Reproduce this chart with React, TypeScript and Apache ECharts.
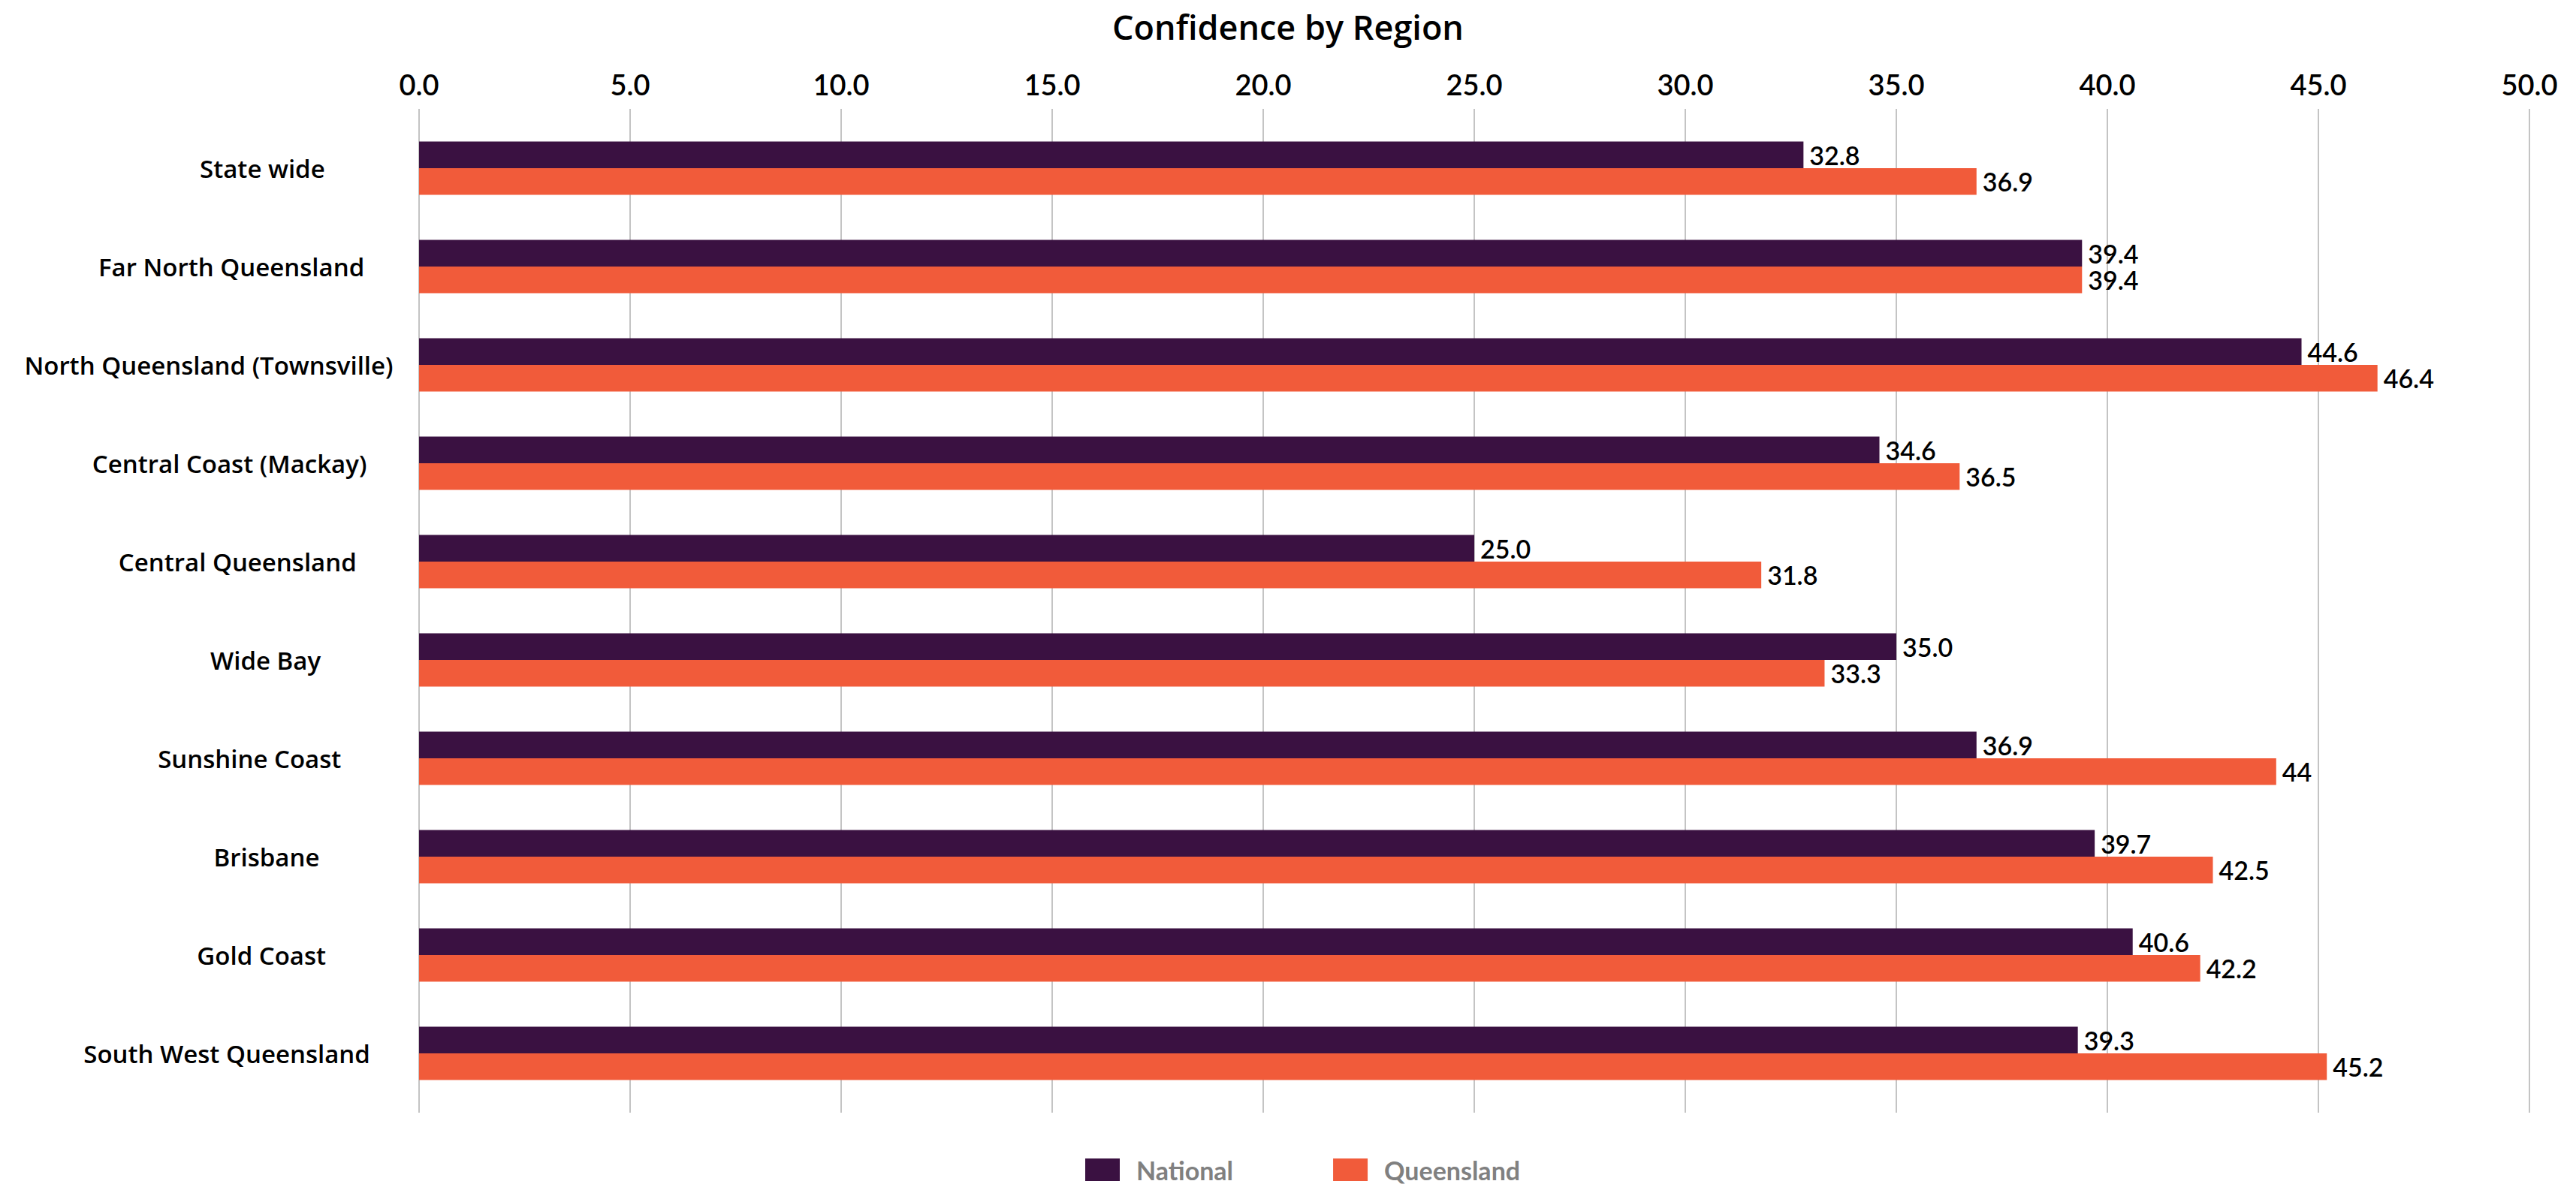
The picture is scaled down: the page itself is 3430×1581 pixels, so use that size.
import React, { useEffect, useRef } from "react";
import * as echarts from "echarts";

// Regions, top to bottom
const regions = [
  "State wide",
  "Far North Queensland",
  "North Queensland (Townsville)",
  "Central Coast (Mackay)",
  "Central Queensland",
  "Wide Bay",
  "Sunshine Coast",
  "Brisbane",
  "Gold Coast",
  "South West Queensland",
];

const national = [32.8, 39.4, 44.6, 34.6, 25.0, 35.0, 36.9, 39.7, 40.6, 39.3];
const queensland = [36.9, 39.4, 46.4, 36.5, 31.8, 33.3, 44, 42.5, 42.2, 45.2];

const seriesNames = ["National", "Queensland"];
const axisMin = 0;
const axisMax = 50;
const axisStep = 5;

const W = 3430;
const H = 1581;
const PLOT_LEFT = 558;
const PLOT_RIGHT = 62;

const COLOR_NATIONAL = "#3a1141";
const COLOR_QLD = "#f15b3a";
const GRID_COLOR = "#c4c4c4";

const CAT_FONT_FAMILY = '"Open Sans", "Noto Sans", sans-serif';
const CAT_FONT_SIZE = 33;
const CAT_FONT_WEIGHT = 600;
const NUM_FONT = 'Lato, "Open Sans", sans-serif';

// Category labels sit on an anchor ~72% along their width
const LABEL_ANCHOR_X = 386;
const LABEL_ANCHOR_FRAC = 0.72;

function measure(text: string): number {
  const c = document.createElement("canvas");
  const ctx = c.getContext("2d");
  if (!ctx) return text.length * CAT_FONT_SIZE * 0.55;
  ctx.font = `${CAT_FONT_WEIGHT} ${CAT_FONT_SIZE}px ${CAT_FONT_FAMILY}`;
  return ctx.measureText(text).width;
}

export default function App() {
  const ref = useRef<HTMLDivElement>(null);

  useEffect(() => {
    document.body.style.margin = "0";
    if (!ref.current) return;
    const chart = echarts.init(ref.current, undefined, { renderer: "svg" });

    const rich: Record<string, any> = {};
    regions.forEach((r, i) => {
      const w = measure(r);
      const right = LABEL_ANCHOR_X + (1 - LABEL_ANCHOR_FRAC) * w;
      const pad = Math.max(0, PLOT_LEFT - right);
      rich["c" + i] = {
        fontFamily: CAT_FONT_FAMILY,
        fontSize: CAT_FONT_SIZE,
        fontWeight: CAT_FONT_WEIGHT,
        color: "#000",
        padding: [0, pad, 0, 0],
      };
    });

    const valueLabel = {
      show: true,
      position: "right",
      distance: 8,
      fontFamily: NUM_FONT,
      fontSize: 34,
      fontWeight: 600,
      color: "#000",
    };

    const option: any = {
      animation: false,
      backgroundColor: "#fff",
      title: {
        text: "Confidence by Region",
        left: "center",
        top: 8,
        textStyle: {
          fontFamily: CAT_FONT_FAMILY,
          fontSize: 45,
          fontWeight: 600,
          color: "#000",
        },
      },
      legend: {
        data: seriesNames,
        left: 1440,
        top: 1536,
        itemWidth: 46,
        itemHeight: 30,
        itemGap: 133,
        icon: "rect",
        textStyle: {
          fontFamily: NUM_FONT,
          fontSize: 34,
          lineHeight: 34,
          fontWeight: "bold",
          color: "#808080",
          padding: [0, 0, 0, 17],
        },
      },
      grid: [
        { left: PLOT_LEFT, right: PLOT_RIGHT, top: 145, bottom: H - 1482 },
        { left: PLOT_LEFT, right: PLOT_RIGHT, top: 158.5, height: 1310 },
      ],
      xAxis: [
        {
          gridIndex: 0,
          type: "value",
          position: "top",
          min: axisMin,
          max: axisMax,
          interval: axisStep,
          axisLine: { show: false },
          axisTick: { show: false },
          axisLabel: {
            margin: 14,
            fontFamily: NUM_FONT,
            fontSize: 38,
            fontWeight: 600,
            color: "#000",
            formatter: (v: number) => v.toFixed(1),
          },
          splitLine: { show: true, lineStyle: { color: GRID_COLOR, width: 2 } },
        },
        {
          gridIndex: 1,
          type: "value",
          min: axisMin,
          max: axisMax,
          show: false,
        },
      ],
      yAxis: [
        { gridIndex: 0, type: "value", show: false },
        {
          gridIndex: 1,
          type: "category",
          inverse: true,
          data: regions,
          axisLine: { show: false },
          axisTick: { show: false },
          splitLine: { show: false },
          axisLabel: {
            margin: 0,
            align: "right",
            fontFamily: CAT_FONT_FAMILY,
            fontSize: CAT_FONT_SIZE,
            fontWeight: CAT_FONT_WEIGHT,
            color: "#000",
            formatter: (v: string, i: number) => `{c${i}|${v}}`,
            rich,
          },
        },
      ],
      series: [
        {
          name: seriesNames[0],
          type: "bar",
          xAxisIndex: 1,
          yAxisIndex: 1,
          data: national,
          barWidth: 35.5,
          barGap: "0%",
          itemStyle: { color: COLOR_NATIONAL },
          label: { ...valueLabel, formatter: (p: any) => Number(p.value).toFixed(1) },
        },
        {
          name: seriesNames[1],
          type: "bar",
          xAxisIndex: 1,
          yAxisIndex: 1,
          data: queensland,
          barWidth: 35.5,
          barGap: "0%",
          itemStyle: { color: COLOR_QLD },
          label: { ...valueLabel, formatter: (p: any) => String(p.value) },
        },
      ],
    };

    chart.setOption(option);
    return () => chart.dispose();
  }, []);

  return <div ref={ref} style={{ width: W, height: H }} />;
}
